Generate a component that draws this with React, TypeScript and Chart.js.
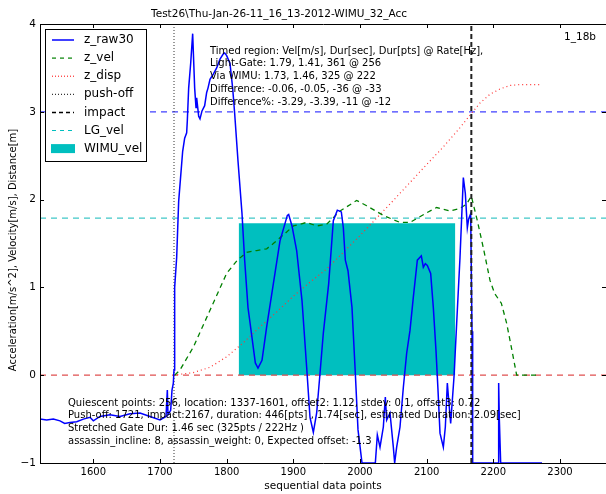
import React, { useEffect, useRef } from "react";
import { Chart, registerables } from "chart.js";
Chart.register(...registerables);

const titleText = "Test26\\Thu-Jan-26-11_16_13-2012-WIMU_32_Acc";
const xAxisLabel = "sequential data points";
const yAxisLabel = "Acceleration[m/s^2], Velocity[m/s], Distance[m]";
const cornerTag = "1_18b";

const xTicks = [1600, 1700, 1800, 1900, 2000, 2100, 2200, 2300];
const yTicks = [-1, 0, 1, 2, 3, 4];
const xMin = 1520;
const xMax = 2369;
const yMin = -1;
const yMax = 4;

const rawX = [1520,1530,1540,1550,1557,1565,1575,1585,1595,1600,1610,1625,1640,1655,1670,1685,1700,1709,1711,1712,1716,1718,1720,1721,1722,1725,1728,1734,1737,1740,1741,1743,1746,1749,1752,1754,1755,1758,1760,1763,1767,1770,1772,1775,1780,1785,1790,1795,1797,1800,1805,1809,1812,1817,1823,1827,1832,1835,1843,1847,1853,1860,1870,1880,1891,1893,1898,1905,1913,1920,1925,1930,1935,1940,1945,1953,1960,1966,1972,1975,1978,1982,1988,1993,1997,2003,2023,2026,2030,2035,2038,2040,2045,2050,2052,2055,2060,2065,2070,2075,2080,2086,2092,2095,2098,2101,2106,2110,2114,2117,2120,2125,2128,2131,2133,2136,2141,2145,2150,2155,2158,2161,2163,2166,2168,2169,2207,2208,2209,2211,2273];
const rawY = [-0.5,-0.51,-0.5,-0.52,-0.55,-0.54,-0.53,-0.5,-0.48,-0.52,-0.47,-0.45,-0.47,-0.44,-0.43,-0.47,-0.51,-0.47,-0.17,-0.45,-0.4,-0.17,-0.09,0.06,1.0,1.34,1.98,2.55,2.7,2.76,2.9,3.27,3.55,3.89,3.27,3.05,3.16,2.95,2.92,3.01,3.07,3.22,3.27,3.37,3.43,3.5,3.6,3.66,3.67,3.64,3.55,3.27,2.98,2.44,1.84,1.31,0.77,0.6,0.14,0.08,0.17,0.55,1.04,1.53,1.82,1.83,1.7,1.42,0.85,0.09,-0.48,-0.65,-0.43,0.02,0.48,1.04,1.76,1.88,1.86,1.68,1.31,1.19,0.77,0.02,-0.62,-1,-1,-0.68,-0.82,-0.59,-0.25,-0.51,-0.43,-0.82,-1,-0.82,-0.59,-0.14,0.25,0.51,0.89,1.31,1.36,1.23,1.27,1.25,1.16,0.77,0.28,-0.17,-0.66,-0.82,-0.59,-0.09,-0.28,-0.55,-0.02,0.59,1.34,2.25,2.07,1.68,1.78,1.84,0.5,-1,-1,-0.09,-0.5,-1,-1];

const velX = [1722,1730,1750,1775,1800,1816,1830,1845,1860,1870,1890,1900,1920,1935,1950,1970,1995,2010,2035,2060,2075,2100,2115,2135,2150,2160,2167,2176,2185,2195,2202,2212,2220,2228,2235,2265];
const velY = [0,0.06,0.32,0.74,1.16,1.31,1.4,1.42,1.44,1.5,1.63,1.7,1.74,1.7,1.72,1.87,1.99,1.93,1.82,1.74,1.74,1.85,1.91,1.87,1.9,1.95,2.04,1.76,1.45,1.08,0.93,0.82,0.59,0.28,0,0];

const dispX = [1720,1750,1775,1800,1825,1850,1875,1900,1925,1950,2000,2050,2100,2125,2150,2167,2180,2195,2210,2225,2240,2270];
const dispY = [0,0.03,0.09,0.21,0.37,0.55,0.72,0.9,1.06,1.21,1.59,1.99,2.4,2.6,2.82,2.98,3.1,3.2,3.26,3.3,3.31,3.31];

const pushOff = 1721;
const impact = 2167;
const lgVel = 1.79;
const offsetLine = 3;
const wimuStart = 1818;
const wimuEnd = 2143;
const wimuVel = 1.73;

const topNotes = [
  "Timed region: Vel[m/s], Dur[sec], Dur[pts] @ Rate[Hz],",
  "Light-Gate: 1.79, 1.41, 361 @ 256",
  "Via WIMU: 1.73, 1.46, 325 @ 222",
  "Difference: -0.06, -0.05, -36 @ -33",
  "Difference%: -3.29, -3.39, -11 @ -12",
];
const bottomNotes = [
  "Quiescent points: 256, location: 1337-1601, offset2: 1.12, stdev: 0.1, offset3: 0.72",
  "Push-off: 1721, impact:2167, duration: 446[pts] , 1.74[sec], estimated Duration: 2.09[sec]",
  "Stretched Gate Dur: 1.46 sec (325pts / 222Hz )",
  "assassin_incline: 8, assassin_weight: 0, Expected offset: -1.3",
];

const legendItems = [
  { label: "z_raw30", color: "#0000ff", dash: [] as number[], width: 1.5, patch: false },
  { label: "z_vel", color: "#008000", dash: [4, 4], width: 1.2, patch: false },
  { label: "z_disp", color: "#ff0000", dash: [1, 2], width: 1, patch: false },
  { label: "push-off", color: "#000000", dash: [1, 2], width: 1, patch: false },
  { label: "impact", color: "#000000", dash: [4, 3], width: 1.5, patch: false },
  { label: "LG_vel", color: "#00bfbf", dash: [4, 4], width: 1, patch: false },
  { label: "WIMU_vel", color: "#00bfbf", dash: [], width: 0, patch: true },
];

const FONT = "'DejaVu Sans', sans-serif";

const decor = {
  id: "decor",
  afterDatasetsDraw(chart: any) {
    const { ctx, chartArea: a, scales } = chart;
    const xs = scales.x;
    const ys = scales.y;
    ctx.save();
    ctx.strokeStyle = "#000";
    ctx.lineWidth = 1;
    ctx.setLineDash([]);
    ctx.beginPath();
    ctx.rect(Math.round(a.left) + 0.5, Math.round(a.top) + 0.5, Math.round(a.right - a.left), Math.round(a.bottom - a.top));
    ctx.stroke();
    ctx.beginPath();
    xTicks.forEach((v) => {
      const px = Math.round(xs.getPixelForValue(v)) + 0.5;
      ctx.moveTo(px, a.bottom);
      ctx.lineTo(px, a.bottom - 4);
      ctx.moveTo(px, a.top);
      ctx.lineTo(px, a.top + 4);
    });
    yTicks.forEach((v) => {
      const py = Math.round(ys.getPixelForValue(v)) + 0.5;
      ctx.moveTo(a.left, py);
      ctx.lineTo(a.left + 4, py);
      ctx.moveTo(a.right, py);
      ctx.lineTo(a.right - 4, py);
    });
    ctx.stroke();
    ctx.restore();
  },
  afterDraw(chart: any) {
    const { ctx, chartArea: a } = chart;
    ctx.save();
    ctx.fillStyle = "#000";
    ctx.font = `10.5px ${FONT}`;
    ctx.textAlign = "center";
    ctx.textBaseline = "middle";
    ctx.fillText(titleText, 279, 14);
    ctx.font = `10.5px ${FONT}`;
    ctx.fillText(xAxisLabel, (a.left + a.right) / 2, 486);
    ctx.save();
    ctx.font = `10px ${FONT}`;
    ctx.translate(13, 250);
    ctx.rotate(-Math.PI / 2);
    ctx.fillText(yAxisLabel, 0, 0);
    ctx.restore();
    ctx.font = `10px ${FONT}`;
    ctx.textAlign = "left";
    topNotes.forEach((t, i) => ctx.fillText(t, 210, 51 + i * 12.8));
    bottomNotes.forEach((t, i) => ctx.fillText(t, 68, 403 + i * 12.8));
    ctx.textAlign = "right";
    ctx.font = `10.5px ${FONT}`;
    ctx.fillText(cornerTag, 596, 37);
    const lx = 45.5, ly = 29.5, lw = 101, lh = 132;
    ctx.fillStyle = "#fff";
    ctx.fillRect(lx, ly, lw, lh);
    ctx.strokeStyle = "#000";
    ctx.lineWidth = 1;
    ctx.setLineDash([]);
    ctx.strokeRect(lx, ly, lw, lh);
    ctx.font = `12px ${FONT}`;
    ctx.textAlign = "left";
    legendItems.forEach((it, i) => {
      const cy = 40 + i * 18.1;
      if (it.patch) {
        ctx.fillStyle = it.color;
        ctx.fillRect(51, cy - 4.5, 24, 9);
      } else {
        ctx.strokeStyle = it.color;
        ctx.lineWidth = it.width;
        ctx.setLineDash(it.dash);
        ctx.beginPath();
        ctx.moveTo(52, cy);
        ctx.lineTo(74, cy);
        ctx.stroke();
      }
      ctx.setLineDash([]);
      ctx.fillStyle = "#000";
      ctx.fillText(it.label, 84, cy);
    });
    ctx.restore();
  },
};

function pts(xs: number[], ys: number[]) {
  return xs.map((x, i) => ({ x, y: ys[i] }));
}

export default function App() {
  const ref = useRef<HTMLCanvasElement>(null);
  useEffect(() => {
    if (!ref.current) return;
    const base = { pointRadius: 0, fill: false, tension: 0 };
    const chart = new Chart(ref.current, {
      type: "line",
      data: {
        datasets: [
          { ...base, label: "impact", data: [{ x: impact, y: yMin }, { x: impact, y: yMax }], borderColor: "#222", borderWidth: 2, borderDash: [5, 3], order: 0 },
          { ...base, label: "z_raw30", data: pts(rawX, rawY), borderColor: "#0000ff", borderWidth: 1.5, order: 1 },
          { ...base, label: "z_vel", data: pts(velX, velY), borderColor: "#008000", borderWidth: 1.3, borderDash: [5, 4], order: 2 },
          { ...base, label: "z_disp", data: pts(dispX, dispY), borderColor: "#ff3030", borderWidth: 1.2, borderDash: [1, 3], order: 3 },
          { ...base, label: "push-off", data: [{ x: pushOff, y: yMin }, { x: pushOff, y: yMax }], borderColor: "#333", borderWidth: 1, borderDash: [1, 2], order: 4 },
          { ...base, label: "LG_vel", data: [{ x: xMin, y: lgVel }, { x: xMax, y: lgVel }], borderColor: "#40c8c8", borderWidth: 1.2, borderDash: [6, 5], order: 5 },
          { ...base, label: "offset", data: [{ x: xMin, y: offsetLine }, { x: xMax, y: offsetLine }], borderColor: "#4040ff", borderWidth: 1.2, borderDash: [6, 5], order: 6 },
          { ...base, label: "zero", data: [{ x: xMin, y: 0 }, { x: xMax, y: 0 }], borderColor: "#e05050", borderWidth: 1.2, borderDash: [6, 5], order: 7 },
          { ...base, label: "WIMU_vel", data: [{ x: wimuStart, y: wimuVel }, { x: wimuEnd, y: wimuVel }], borderColor: "rgba(0,0,0,0)", borderWidth: 0, backgroundColor: "#00bfbf", fill: "origin", order: 8 },
        ],
      },
      options: {
        responsive: false,
        animation: false,
        events: [],
        layout: { padding: { top: 24, right: 0, left: 0, bottom: 0 } },
        plugins: { legend: { display: false }, tooltip: { enabled: false }, title: { display: false } },
        scales: {
          x: {
            type: "linear",
            min: xMin,
            max: xMax,
            afterBuildTicks: (s: any) => { s.ticks = xTicks.map((v) => ({ value: v })); },
            afterFit: (s: any) => { s.height = 31; },
            grid: { display: false, drawTicks: false },
            border: { display: false },
            ticks: { color: "#000", font: { family: FONT, size: 10 }, padding: 3, maxRotation: 0, autoSkip: false, callback: (v: any) => String(v) },
          },
          y: {
            type: "linear",
            min: yMin,
            max: yMax,
            afterBuildTicks: (s: any) => { s.ticks = yTicks.map((v) => ({ value: v })); },
            afterFit: (s: any) => { s.width = 40; },
            grid: { display: false, drawTicks: false },
            border: { display: false },
            ticks: { color: "#000", font: { family: FONT, size: 10.5 }, padding: 4, callback: (v: any) => (v < 0 ? "\u2212" + Math.abs(v) : String(v)) },
          },
        },
      },
      plugins: [decor],
    } as any);
    return () => chart.destroy();
  }, []);
  return (
    <div style={{ position: "fixed", left: 0, top: 0, width: 606, height: 494, background: "#fff" }}>
      <canvas ref={ref} width={606} height={494} style={{ display: "block" }} />
    </div>
  );
}
